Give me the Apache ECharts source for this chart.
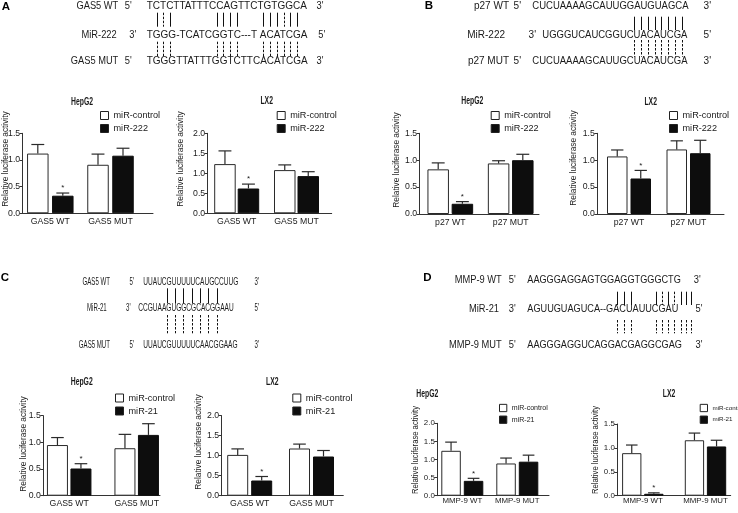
<!DOCTYPE html>
<html><head><meta charset="utf-8">
<script src="https://cdn.jsdelivr.net/npm/echarts@6/dist/echarts.min.js"></script>
<style>html,body{margin:0;padding:0;background:#fff}#c{width:738px;height:513px}</style>
</head><body><div id="c"></div>
<script>
// ================= DATA =================
const catsA = ['GAS5 WT', 'GAS5 MUT'];
const catsB = ['p27 WT', 'p27 MUT'];
const catsC = ['GAS5 WT', 'GAS5 MUT'];
const catsD = ['MMP-9 WT', 'MMP-9 MUT'];
const names222 = ['miR-control', 'miR-222'];
const names21 = ['miR-control', 'miR-21'];
const panelTitles = ['HepG2', 'LX2', 'HepG2', 'LX2', 'HepG2', 'LX2', 'HepG2', 'LX2'];
const yMaxes = [1.5, 2.0, 1.5, 1.5, 1.5, 2.0, 2.0, 1.5];
const yTickStep = 0.5;

// mean values (bar heights) and SEM (upper error bar length)
const A_HepG2_ctrl = [1.12, 0.91],  A_HepG2_ctrlSem = [0.17, 0.20];
const A_HepG2_mir  = [0.33, 1.08],  A_HepG2_mirSem  = [0.05, 0.14];
const A_LX2_ctrl   = [1.23, 1.08],  A_LX2_ctrlSem   = [0.33, 0.13];
const A_LX2_mir    = [0.62, 0.93],  A_LX2_mirSem    = [0.11, 0.11];
const B_HepG2_ctrl = [0.83, 0.94],  B_HepG2_ctrlSem = [0.12, 0.05];
const B_HepG2_mir  = [0.19, 1.00],  B_HepG2_mirSem  = [0.04, 0.11];
const B_LX2_ctrl   = [1.07, 1.20],  B_LX2_ctrlSem   = [0.12, 0.16];
const B_LX2_mir    = [0.66, 1.13],  B_LX2_mirSem    = [0.15, 0.24];
const C_HepG2_ctrl = [0.95, 0.89],  C_HepG2_ctrlSem = [0.14, 0.26];
const C_HepG2_mir  = [0.51, 1.14],  C_HepG2_mirSem  = [0.09, 0.21];
const C_LX2_ctrl   = [1.02, 1.18],  C_LX2_ctrlSem   = [0.15, 0.11];
const C_LX2_mir    = [0.38, 0.98],  C_LX2_mirSem    = [0.10, 0.15];
const D_HepG2_ctrl = [1.24, 0.89],  D_HepG2_ctrlSem = [0.24, 0.15];
const D_HepG2_mir  = [0.41, 0.94],  D_HepG2_mirSem  = [0.07, 0.18];
const D_LX2_ctrl   = [0.89, 1.16],  D_LX2_ctrlSem   = [0.17, 0.15];
const D_LX2_mir    = [0.04, 1.03],  D_LX2_mirSem    = [0.02, 0.13];
// significance star on miR bar per category
const starMir = [1, 0];

// sequence texts
const seqA_labels = ['GAS5 WT', 'MiR-222', 'GAS5 MUT'];
const seqA = ['TCTCTTATTTCCAGTTCTGTGGCA', 'TGGG-TCATCGGTC---T ACATCGA', 'TGGGTTATTTGGTCTTCACATCGA'];
const seqB_labels = ['p27 WT', 'MiR-222', 'p27 MUT'];
const seqB = ['CUCUAAAAGCAUUGGAUGUAGCA', 'UGGGUCAUCGGUCUACAUCGA', 'CUCUAAAAGCAUUGCUACAUCGA'];
const seqC_labels = ['GAS5 WT', 'MiR-21', 'GAS5 MUT'];
const seqC = ['UUAUCGUUUUUCAUGCCUUG', 'CCGUAAGUGGCGCACGGAAU', 'UUAUCGUUUUUCAACGGAAG'];
const seqD_labels = ['MMP-9 WT', 'MiR-21', 'MMP-9 MUT'];
const seqD = ['AAGGGAGGAGTGGAGGTGGGCTG', 'AGUUGUAGUCA--GACUAUUCGAU', 'AAGGGAGGUCAGGACGAGGCGAG'];
const endsL = ["5'", "3'", "5'"];
const endsR = ["3'", "5'", "3'"];
// base-pair connector columns (in character pitches of the top sequence), 1 = solid, 0 = dashed
const pairA_pos = [1.5, 2.5, 3.5, 10.5, 11.5, 12.5, 13.5, 17.5, 18.5, 19.5, 20.5, 21.5, 22.5];
const pairA_up  = [1, 0, 1, 1, 1, 1, 1, 1, 1, 1, 0, 1, 1];
const pairB_pos = [15, 16, 17, 18, 19, 20, 21, 22];
const pairB_up  = [1, 1, 1, 1, 1, 1, 1, 1];
const pairC_pos = [4.95, 6.7, 8.45, 10.2, 11.95, 13.7, 15.45];
const pairC_up  = [1, 1, 1, 1, 1, 1, 1];
const pairD_pos = [13.4, 14.5, 15.6, 19.3, 20.2, 21.1, 22.0, 23.0, 23.8, 24.5];
const pairD_up  = [1, 1, 1, 1, 0, 1, 0, 1, 1, 1];

// ================= LAYOUT / STYLE =================
const TX = '#1a1a1a', AX = '#333';
const REG = '"Liberation Sans", Arial, sans-serif';
function measure(font, txt) { const c = document.createElement('canvas').getContext('2d'); c.font = font; return c.measureText(txt).width; }
const hasNarrow = measure('20px "Liberation Sans Narrow", monospace', 'abcdefghijklmn') !== measure('20px monospace', 'abcdefghijklmn');
const AXF = hasNarrow ? '"Liberation Sans Narrow", "Liberation Sans", sans-serif' : REG;
const fk = hasNarrow ? 1 : 0.83;

const layouts = [
  {axisX: 22.7, axisEnd: 153, top: 133.3, bottom: 213.3, c1: 50.3, c2: 110.5, barW: 21.5, gap: 3.5, title: [82, 102], leg: [100, 109.5], yname: [5.3, 159], fs: 10.5, lg: 11, lh: 12, lgap: 1, xm: 4, box: 8},
  {axisX: 207.7, axisEnd: 331.7, top: 133.3, bottom: 213.3, c1: 236.7, c2: 296.5, barW: 21.5, gap: 2, title: [266.7, 100.7], leg: [276.7, 109.5], yname: [181, 159], fs: 10.5, lg: 11, lh: 12, lgap: 1, xm: 4, box: 8},
  {axisX: 419.7, axisEnd: 539, top: 133.3, bottom: 214, c1: 450.3, c2: 510.7, barW: 21.5, gap: 2.7, title: [472.3, 100.7], leg: [490.7, 109.5], yname: [396.3, 160], fs: 10.5, lg: 11, lh: 12, lgap: 1, xm: 4, box: 8},
  {axisX: 597.3, axisEnd: 724, top: 133.3, bottom: 214, c1: 629, c2: 688.5, barW: 20.5, gap: 3, title: [650.7, 101.7], leg: [669, 109.5], yname: [574, 158], fs: 10.5, lg: 11, lh: 12, lgap: 1, xm: 4, box: 8},
  {axisX: 43.3, axisEnd: 160, top: 415.7, bottom: 495.7, c1: 69.2, c2: 136.7, barW: 21, gap: 2.5, title: [81.7, 382.3], leg: [115, 392], yname: [23.3, 444], fs: 10.5, lg: 11, lh: 12, lgap: 1, xm: 3, box: 8},
  {axisX: 221.7, axisEnd: 343.3, top: 415.7, bottom: 495.7, c1: 249.7, c2: 311.5, barW: 21, gap: 3, title: [272.3, 382.3], leg: [292.3, 392], yname: [199, 442], fs: 10.5, lg: 11, lh: 12, lgap: 1, xm: 3, box: 8},
  {axisX: 437.3, axisEnd: 549, top: 423.3, bottom: 495.7, c1: 462.3, c2: 517.3, barW: 19.5, gap: 3, title: [427.3, 394.3], leg: [499, 403], yname: [415.7, 450], fs: 9.5, lg: 8.5, lh: 10, lgap: 1.7, xm: 1.5, box: 7.3},
  {axisX: 617.3, axisEnd: 730.7, top: 424, bottom: 495.7, c1: 642.8, c2: 705.5, barW: 19.3, gap: 2.8, title: [669, 394.3], leg: [699.7, 403], yname: [595.7, 450], fs: 9.5, lg: 7.5, lh: 10, lgap: 1.7, xm: 1.5, box: 7.3}
];

const panels = [
  {cats: catsA, names: names222, ctrl: A_HepG2_ctrl, ctrlSem: A_HepG2_ctrlSem, mir: A_HepG2_mir, mirSem: A_HepG2_mirSem},
  {cats: catsA, names: names222, ctrl: A_LX2_ctrl, ctrlSem: A_LX2_ctrlSem, mir: A_LX2_mir, mirSem: A_LX2_mirSem},
  {cats: catsB, names: names222, ctrl: B_HepG2_ctrl, ctrlSem: B_HepG2_ctrlSem, mir: B_HepG2_mir, mirSem: B_HepG2_mirSem},
  {cats: catsB, names: names222, ctrl: B_LX2_ctrl, ctrlSem: B_LX2_ctrlSem, mir: B_LX2_mir, mirSem: B_LX2_mirSem},
  {cats: catsC, names: names21, ctrl: C_HepG2_ctrl, ctrlSem: C_HepG2_ctrlSem, mir: C_HepG2_mir, mirSem: C_HepG2_mirSem},
  {cats: catsC, names: names21, ctrl: C_LX2_ctrl, ctrlSem: C_LX2_ctrlSem, mir: C_LX2_mir, mirSem: C_LX2_mirSem},
  {cats: catsD, names: names21, ctrl: D_HepG2_ctrl, ctrlSem: D_HepG2_ctrlSem, mir: D_HepG2_mir, mirSem: D_HepG2_mirSem},
  {cats: catsD, names: names21, ctrl: D_LX2_ctrl, ctrlSem: D_LX2_ctrlSem, mir: D_LX2_mir, mirSem: D_LX2_mirSem}
];

const option = {animation: false, backgroundColor: '#fff', grid: [], xAxis: [], yAxis: [], series: [], legend: [], graphic: {elements: []}};
const G = option.graphic.elements;

panels.forEach((p, i) => {
  const L = layouts[i];
  const g0 = 2 * i, g1 = 2 * i + 1;
  const s = L.c2 - L.c1;
  const h = L.bottom - L.top;
  option.grid.push({left: L.axisX, top: L.top, width: L.axisEnd - L.axisX, height: h, outerBoundsMode: 'none'});
  option.grid.push({left: L.c1 - s / 2, top: L.top, width: 2 * s, height: h, outerBoundsMode: 'none'});
  option.xAxis.push({gridIndex: g0, type: 'category', data: ['', ''], axisLine: {show: true, lineStyle: {color: AX, width: 1}}, axisTick: {show: false}, axisLabel: {show: false}, splitLine: {show: false}});
  option.yAxis.push({gridIndex: g0, type: 'value', min: 0, max: yMaxes[i], interval: yTickStep,
    axisLine: {show: true, lineStyle: {color: AX, width: 1}}, axisTick: {show: true, length: 3, lineStyle: {color: AX}},
    axisLabel: {formatter: v => v.toFixed(1), fontSize: L.fs * fk, fontFamily: AXF, color: TX, margin: 2.5}, splitLine: {show: false}});
  option.xAxis.push({gridIndex: g1, type: 'category', data: p.cats, axisLine: {show: false}, axisTick: {show: false},
    axisLabel: {interval: 0, fontSize: L.fs * fk, fontFamily: AXF, color: TX, margin: L.xm}, splitLine: {show: false}});
  option.yAxis.push({gridIndex: g1, type: 'value', min: 0, max: yMaxes[i], show: false});
  const gapPct = (L.gap / L.barW * 100) + '%';
  option.series.push({type: 'bar', name: p.names[0], xAxisIndex: g1, yAxisIndex: g1, data: p.ctrl, barWidth: L.barW, barGap: gapPct,
    itemStyle: {color: '#fff', borderColor: '#2a2a2a', borderWidth: 1}, emphasis: {disabled: true}});
  option.series.push({type: 'bar', name: p.names[1], xAxisIndex: g1, yAxisIndex: g1, data: p.mir, barWidth: L.barW, barGap: gapPct,
    itemStyle: {color: '#0d0d0d', borderColor: '#0d0d0d', borderWidth: 1}, emphasis: {disabled: true}});
  const errData = [];
  p.cats.forEach((c, j) => {
    errData.push([j, p.ctrl[j], p.ctrl[j] + p.ctrlSem[j], 0, 0]);
    errData.push([j, p.mir[j], p.mir[j] + p.mirSem[j], 1, starMir[j]]);
  });
  option.series.push({type: 'custom', xAxisIndex: g1, yAxisIndex: g1, data: errData, z: 5, silent: true,
    encode: {x: 0, y: [1, 2]},
    renderItem: (params, api) => {
      const j = api.value(0), v = api.value(1), e = api.value(2), sIdx = api.value(3), st = api.value(4);
      const base = api.coord([j, v]), topP = api.coord([j, e]);
      const x = base[0] + (sIdx === 0 ? -1 : 1) * (L.barW + L.gap) / 2;
      const cap = L.barW * 0.3;
      const ch = [
        {type: 'line', shape: {x1: x, y1: base[1], x2: x, y2: topP[1]}, style: {stroke: '#2a2a2a', lineWidth: 1.2}},
        {type: 'line', shape: {x1: x - cap, y1: topP[1], x2: x + cap, y2: topP[1]}, style: {stroke: '#2a2a2a', lineWidth: 1.2}}
      ];
      if (st) ch.push({type: 'text', x: x, y: topP[1] - 1, style: {text: '*', font: '8px ' + REG, fill: TX, textAlign: 'center', textVerticalAlign: 'bottom'}});
      return {type: 'group', children: ch};
    }});
  option.legend.push({data: p.names, left: L.leg[0], top: L.leg[1], orient: 'vertical', icon: 'rect', itemWidth: L.box, itemHeight: L.box,
    itemGap: L.lgap, selectedMode: false, padding: 0,
    itemStyle: {borderColor: '#222', borderWidth: 1},
    textStyle: {fontSize: L.lg * fk, fontFamily: AXF, color: TX, lineHeight: L.lh}});
  G.push({type: 'text', x: L.title[0], y: L.title[1], scaleX: 0.62, silent: true,
    style: {text: panelTitles[i], font: 'bold 11px ' + REG, fill: TX, textAlign: 'center', textVerticalAlign: 'middle'}});
  G.push({type: 'text', x: L.yname[0], y: L.yname[1], rotation: Math.PI / 2, scaleX: L.lh === 12 ? 0.92 : 0.9, silent: true,
    style: {text: 'Relative luciferase activity', font: (L.lh === 12 ? 9 : 8.5) + 'px ' + REG, fill: TX, textAlign: 'center', textVerticalAlign: 'middle'}});
});

// ---------- sequence blocks ----------
const blocks = [
  {letter: 'A', lp: [6, 7], labels: seqA_labels, seqs: seqA, pos: pairA_pos, up: pairA_up,
   labelR: [118.3, 116.7, 118.3], endL: [128.3, 132.7, 128.3], seqX: [146.7, 146.7, 146.7], endR: [320, 321.7, 320], rowY: [6, 35.7, 61.7], lsx: 0.93, ssx: 1.0, upY: [12.7, 26.7], loY: [41.7, 57.3]},
  {letter: 'B', lp: [429, 6], labels: seqB_labels, seqs: seqB, pos: pairB_pos, up: pairB_up,
   labelR: [509, 505, 509], endL: [517.3, 532.3, 517.3], seqX: [532.3, 542.3, 532.3], endR: [707.3, 707.3, 707.3], rowY: [6, 35.7, 61.7], lsx: 1.0, ssx: 0.95, upY: [16.7, 30], loY: [40, 56.7]},
  {letter: 'C', lp: [5, 278.3], labels: seqC_labels, seqs: seqC, pos: pairC_pos, up: pairC_up,
   labelR: [110, 106.7, 110], endL: [131.7, 128.3, 131.7], seqX: [143.3, 138.3, 143.3], endR: [256.7, 256.7, 256.7], rowY: [282.3, 308.3, 345], lsx: 0.61, ssx: 0.655, upY: [288.3, 303.3], loY: [315, 333.3]},
  {letter: 'D', lp: [427.3, 278.3], labels: seqD_labels, seqs: seqD, pos: pairD_pos, up: pairD_up,
   labelR: [501.7, 499, 501.7], endL: [512.3, 512.3, 512.3], seqX: [527.3, 527.3, 527.3], endR: [697.3, 699, 699], rowY: [280, 309.3, 345], lsx: 0.93, ssx: 0.915, upY: [291.7, 305], loY: [320, 333.3]}
];
const SEQF = '10px ' + REG;
blocks.forEach(b => {
  G.push({type: 'text', x: b.lp[0], y: b.lp[1], silent: true, style: {text: b.letter, font: 'bold 11.5px ' + REG, fill: '#000', textAlign: 'center', textVerticalAlign: 'middle'}});
  for (let r = 0; r < 3; r++) {
    const y = b.rowY[r];
    G.push({type: 'text', x: b.labelR[r], y: y, scaleX: b.lsx, silent: true, style: {text: b.labels[r], font: SEQF, fill: TX, textAlign: 'right', textVerticalAlign: 'middle'}});
    G.push({type: 'text', x: b.endL[r], y: y, scaleX: b.lsx, silent: true, style: {text: endsL[r], font: SEQF, fill: TX, textAlign: 'center', textVerticalAlign: 'middle'}});
    G.push({type: 'text', x: b.seqX[r], y: y, scaleX: b.ssx, silent: true, style: {text: b.seqs[r], font: SEQF, fill: TX, textAlign: 'left', textVerticalAlign: 'middle'}});
    G.push({type: 'text', x: b.endR[r], y: y, scaleX: b.lsx, silent: true, style: {text: endsR[r], font: SEQF, fill: TX, textAlign: 'center', textVerticalAlign: 'middle'}});
  }
  const pitch = measure(SEQF, b.seqs[0]) * b.ssx / b.seqs[0].length;
  b.pos.forEach((pp, k) => {
    const x = Math.round(b.seqX[0] + pp * pitch) + 0.5;
    G.push({type: 'line', silent: true, shape: {x1: x, y1: b.upY[0], x2: x, y2: b.upY[1]}, style: {stroke: '#111', lineWidth: 1, lineDash: b.up[k] ? null : [2.5, 1.5]}});
    G.push({type: 'line', silent: true, shape: {x1: x, y1: b.loY[0], x2: x, y2: b.loY[1]}, style: {stroke: '#111', lineWidth: 1, lineDash: [2.5, 1.5]}});
  });
});

const chart = echarts.init(document.getElementById('c'), null, {renderer: 'canvas'});
chart.setOption(option);
</script></body></html>
